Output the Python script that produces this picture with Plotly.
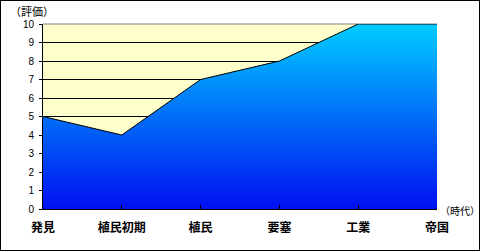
import plotly.graph_objects as go

categories = ["発見", "植民初期", "植民", "要塞", "工業", "帝国"]
values = [5, 4, 7, 8, 10, 10]
y_ticks = list(range(0, 11))

W, H = 480, 251
L, R, T, B = 43, 43, 24, 42
pw, ph = W - L - R, H - T - B

fig = go.Figure()
fig.add_trace(go.Scatter(
    x=list(range(len(categories))), y=values,
    mode="lines", line=dict(color="black", width=1),
    fill="tozeroy",
    fillgradient=dict(type="vertical",
                      colorscale=[[0, "#0010F0"], [1, "#00CCFF"]],
                      start=0, stop=10),
    hoverinfo="skip", showlegend=False,
))

def px_x(p):
    return (p - L) / pw

def px_y(p):
    return (H - B - p) / ph

border = dict(color="black", width=1)
fig.update_layout(
    width=W, height=H,
    margin=dict(l=L, r=R, t=T, b=B, pad=0),
    paper_bgcolor="white", plot_bgcolor="#FFFFCC",
    font=dict(family="Noto Sans CJK JP", color="black", size=10),
    xaxis=dict(
        range=[0, len(categories) - 1],
        tickmode="array", tickvals=list(range(len(categories))), ticktext=categories,
        tickfont=dict(size=12, family="Noto Sans CJK JP", weight="bold"),
        ticks="inside", ticklen=4, tickcolor="black",
        showgrid=False, zeroline=False,
        showline=True, linecolor="black", linewidth=1,
        ticklabelstandoff=8,
    ),
    yaxis=dict(
        range=[0, 10],
        tickmode="array", tickvals=y_ticks,
        tickfont=dict(size=10, family="Liberation Sans"),
        ticks="outside", ticklen=3, tickcolor="black",
        showgrid=True, gridcolor="black", gridwidth=1,
        zeroline=False,
        showline=True, linecolor="black", linewidth=1,
        ticklabelstandoff=3,
    ),
    shapes=[
        dict(type="line", xref="paper", yref="paper", x0=0, x1=1, y0=1, y1=1,
             line=dict(color="#808080", width=1), layer="below"),
        dict(type="line", xref="paper", yref="paper", x0=px_x(0), x1=px_x(480), y0=px_y(0.5), y1=px_y(0.5), line=border),
        dict(type="line", xref="paper", yref="paper", x0=px_x(0), x1=px_x(480), y0=px_y(250.5), y1=px_y(250.5), line=border),
        dict(type="line", xref="paper", yref="paper", x0=px_x(0.5), x1=px_x(0.5), y0=px_y(0), y1=px_y(251), line=border),
        dict(type="line", xref="paper", yref="paper", x0=px_x(479.5), x1=px_x(479.5), y0=px_y(0), y1=px_y(251), line=border),
    ],
    annotations=[
        dict(text="（評価）", xref="paper", yref="paper",
             x=px_x(8), y=px_y(11), xanchor="left", yanchor="middle",
             showarrow=False, font=dict(size=11, family="Noto Sans CJK JP")),
        dict(text="（時代）", xref="paper", yref="paper",
             x=px_x(438), y=px_y(211), xanchor="left", yanchor="middle",
             showarrow=False, font=dict(size=10, family="Noto Sans CJK JP")),
    ],
)

fig.write_html("out.html")
